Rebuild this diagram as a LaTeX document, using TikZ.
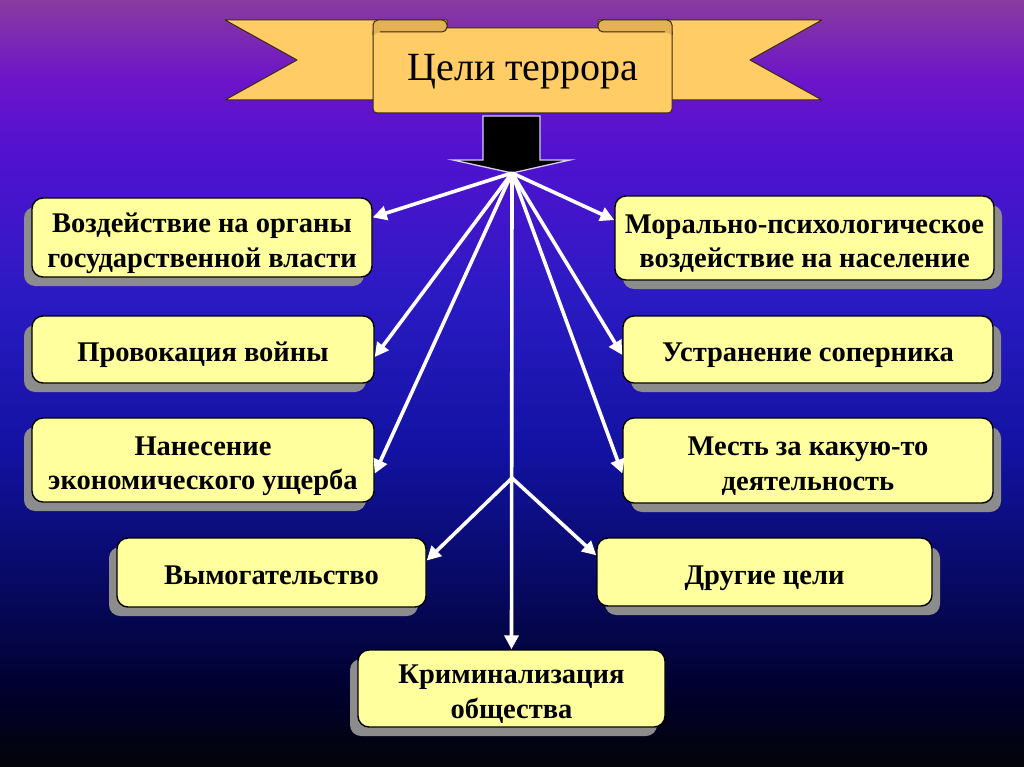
\documentclass[tikz,border=0pt]{standalone}
\usepackage{fontspec}
\setmainfont{Liberation Serif}
\usetikzlibrary{shadows,arrows.meta,calc}
\definecolor{bgA}{HTML}{040408}
\definecolor{bgB}{HTML}{000028}
\definecolor{bgC}{HTML}{06085A}
\definecolor{bgD}{HTML}{1212A2}
\definecolor{bgE}{HTML}{2A1AC2}
\definecolor{bgF}{HTML}{5212D0}
\definecolor{bgG}{HTML}{6C14CA}
\definecolor{bgH}{HTML}{8A3C9E}
\definecolor{boxfill}{HTML}{FFFF9E}
\definecolor{shadowgray}{HTML}{8C8C8C}
\definecolor{bannerfill}{HTML}{FFCC66}
\definecolor{foldfill}{HTML}{E3B257}
\definecolor{bannerline}{HTML}{3A2A10}
\definecolor{arrowedge}{HTML}{D8D0F0}
\newcommand\firststrut{\rule{0pt}{32.5pt}}
% positions 25bp..75bp cover the shaded path
\pgfdeclareverticalshading{bgsh}{100bp}{color(0bp)=(bgA); color(25bp)=(bgA); color(29.35bp)=(bgB); color(35.9bp)=(bgC); color(45.65bp)=(bgD); color(55.45bp)=(bgE); color(65.2bp)=(bgF); color(69.8bp)=(bgG); color(75bp)=(bgH); color(100bp)=(bgH)}
\tikzset{
  goal/.style={draw=black, line width=1.4pt, fill=boxfill, rounded corners=11pt,
    align=center, inner sep=0pt, font=\bfseries\fontsize{28.5}{34.5}\selectfont,
    execute at end node={\rule[-8pt]{0pt}{8pt}}},
  shl/.style={drop shadow={shadow xshift=-8pt, shadow yshift=-9pt, fill=shadowgray, opacity=1}},
  shr/.style={drop shadow={shadow xshift=8pt, shadow yshift=-9pt, fill=shadowgray, opacity=1}},
  arr/.style={draw=white, line width=3.6pt, -{Triangle[length=14pt,width=14pt]}},
  band/.style={draw=bannerline, line width=1pt, fill=bannerfill, line join=round},
  fold/.style={draw=bannerline, line width=1pt, fill=foldfill, line join=round}
}
\begin{document}
\begin{tikzpicture}[x=1pt,y=-1pt]
\useasboundingbox (0,0) rectangle (1024,767);
\shade[shading=bgsh] (0,0) rectangle (1024,767);
% banner
\path[band] (225,20) -- (447,20) -- (447,100) -- (225,100) -- (297,60) -- cycle;
\path[band] (822,20) -- (598,20) -- (598,100) -- (822,100) -- (750,60) -- cycle;
\path[band, rounded corners=4pt] (373,28) -- (672,28) -- (672,113) -- (373,113) -- cycle;
\path[fold, rounded corners=5pt] (373,35) -- (373,20) -- (447,20) -- (447,32) -- (380,32);
\path[fold, rounded corners=5pt] (672,35) -- (672,20) -- (598,20) -- (598,32) -- (665,32);
\node (title) at (523,72) {\fontsize{40}{44}\selectfont Цели террора};
% black arrow
\path[fill=black, draw=arrowedge, line width=1.3pt, line join=miter]
  (483,116) -- (540,116) -- (540,160) -- (570,160) -- (512,173) -- (453,160) -- (483,160) -- cycle;
\coordinate (o) at (512,173);
\coordinate (j) at (512,478);
% boxes
\node[goal, shl, minimum width=340pt, minimum height=79pt] (voz) at (202,237.5) {\firststrut Воздействие на органы\\государственной власти};
\node[goal, shl, minimum width=342pt, minimum height=67pt] (prov) at (203,349.5) {\firststrut Провокация войны};
\node[goal, shl, minimum width=342pt, minimum height=84pt] (nan) at (203,460) {\firststrut Нанесение\\экономического ущерба};
\node[goal, shl, minimum width=309pt, minimum height=69pt] (vym) at (271.5,572.5) {\firststrut Вымогательство};
\node[goal, shl, minimum width=307pt, minimum height=77pt] (krim) at (511.5,688.5) {\firststrut Криминализация\\общества};
\node[goal, shr, minimum width=379pt, minimum height=84pt] (mor) at (804.5,238) {\firststrut Морально-психологическое\\воздействие на население};
\node[goal, shr, minimum width=370pt, minimum height=67pt] (ustr) at (808,349.5) {\firststrut Устранение соперника};
\node[goal, shr, minimum width=370pt, minimum height=85pt] (mest) at (808,460.5) {\firststrut Месть за какую-то\\деятельность};
\node[goal, shr, minimum width=335pt, minimum height=68pt] (dr) at (764.5,572) {\firststrut Другие цели};
% connectors
\draw[arr] (o) -- ($(voz.north east)!0.25!(voz.south east)$);
\draw[arr] (o) -- ($(prov.north east)!0.61!(prov.south east)$);
\draw[arr] (o) -- ($(nan.north east)!0.66!(nan.south east)$);
\draw[arr] (o) -- ($(mor.north west)!0.29!(mor.south west)$);
\draw[arr] (o) -- ($(ustr.north west)!0.58!(ustr.south west)$);
\draw[arr] (o) -- ($(mest.north west)!0.65!(mest.south west)$);
\draw[arr] (o) -- (krim.north);
\draw[arr] (j) -- ($(vym.north east)!0.33!(vym.south east)$);
\draw[arr] (j) -- ($(dr.north west)!0.26!(dr.south west)$);
\end{tikzpicture}
\end{document}
